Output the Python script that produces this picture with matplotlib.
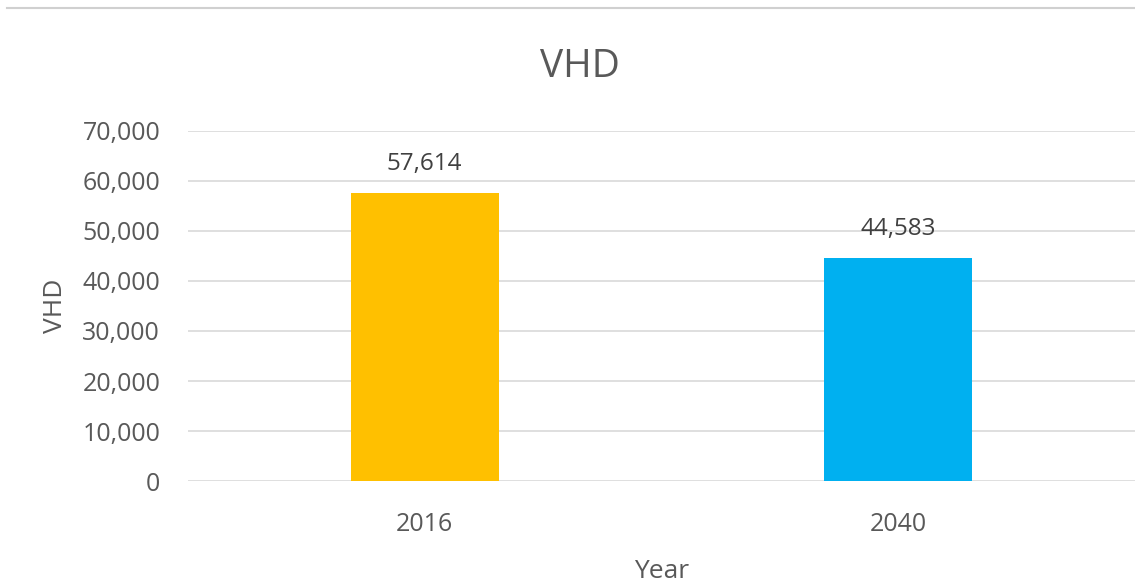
import matplotlib
matplotlib.use("Agg")
import matplotlib.pyplot as plt
from matplotlib.ticker import FuncFormatter

years = ["2016", "2040"]
vhd = [57614, 44583]
bar_colors = ["#FFC000", "#00B0F0"]

plt.rcParams['font.family'] = ['Open Sans', 'DejaVu Sans']
text_color = "#595959"

fig = plt.figure(figsize=(11.35, 5.82), dpi=100)
ax = fig.add_axes([0.1656, 0.1735, 0.8344, 0.6015])

x = list(range(len(years)))
bars = ax.bar(x, vhd, width=0.3125, color=bar_colors, zorder=3)

ax.set_xlim(-0.5, 1.5)
ax.set_ylim(0, 70000)
ax.set_yticks(range(0, 70001, 10000))
ax.yaxis.set_major_formatter(FuncFormatter(lambda v, p: f"{int(v):,}"))
ax.set_xticks(x)
ax.set_xticklabels(years)

ax.grid(axis='y', color="#D9D9D9", linewidth=1.2, zorder=0)
for s in ax.spines.values():
    s.set_visible(False)
ax.tick_params(axis='both', length=0, labelsize=18, colors=text_color)
ax.tick_params(axis='y', pad=20)
ax.tick_params(axis='x', pad=22)

for b, v in zip(bars, vhd):
    ax.annotate(f"{v:,}", (b.get_x() + b.get_width() / 2, v),
                xytext=(0, 12), textcoords="offset points",
                ha='center', va='bottom', fontsize=17.5, color="#404040")

ax.set_ylabel("VHD", fontsize=19, color=text_color, labelpad=10)
ax.set_xlabel("Year", fontsize=19, color=text_color, labelpad=16)
fig.text(0.511, 0.885, "VHD", ha='center', va='center', fontsize=28, color=text_color)

# thin frame line at the top of the figure
fig.add_artist(plt.Line2D([0.006, 1.0], [0.986, 0.986], color="#D0D0D0", linewidth=1.5,
                          transform=fig.transFigure))

fig.savefig("out.png", dpi=100)
